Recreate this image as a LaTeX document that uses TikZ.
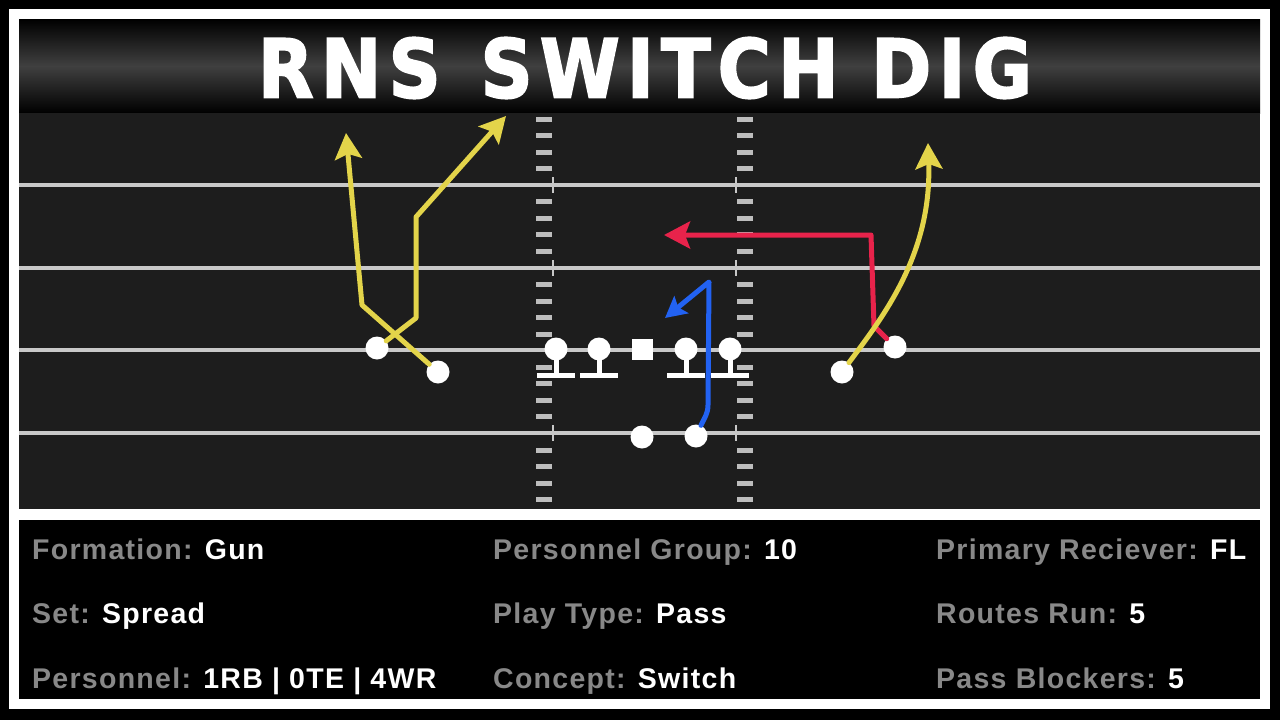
\documentclass[tikz,border=0pt]{standalone}
\usepackage{fontspec}
\usepackage{graphicx}
\setmainfont{Liberation Sans}
\newfontfamily\titlefont{DejaVu Sans}
\usetikzlibrary{arrows.meta}
\definecolor{fieldc}{HTML}{1D1D1D}
\definecolor{yardc}{HTML}{C8C8C8}
\definecolor{hashc}{HTML}{BDBDBD}
\definecolor{labgray}{HTML}{888888}
\definecolor{routeyel}{HTML}{E3D44A}
\definecolor{routered}{HTML}{E8234B}
\definecolor{routeblue}{HTML}{2262F2}
\newcommand{\playval}[1]{{\color{white}#1}}
\tikzset{
  player/.style={circle, fill=white, minimum size=23pt, inner sep=0pt},
  center/.style={rectangle, fill=white, minimum size=21pt, inner sep=0pt},
  routeline/.style={line width=5pt, line join=round, line cap=round},
  tip/.style={-{Stealth[length=26pt,width=27pt,inset=5pt]}},
  yelroute/.style={routeline, tip, draw=routeyel},
  redroute/.style={routeline, tip, draw=routered},
  blueroute/.style={routeline, -{Stealth[length=21pt,width=22pt,inset=4pt]}, draw=routeblue},
  info/.style={anchor=base west, inner sep=0pt, text=labgray,
    font=\fontsize{28.5}{32}\selectfont\bfseries\addfontfeatures{LetterSpace=4.5}}
}
\begin{document}
\begin{tikzpicture}[x=1pt,y=-1pt]
\useasboundingbox (0,0) rectangle (1280,720);
\fill[black] (0,0) rectangle (1280,720);
\fill[white] (9,9) rectangle (1270,709);
% title bar
\shade[top color=black, bottom color=black, middle color=black!75!white] (19,19) rectangle (1260,113);
\node[inner sep=0pt, text=white] (title) at (645,68)
  {\resizebox{774pt}{60pt}{\titlefont\bfseries\addfontfeatures{LetterSpace=10,FakeBold=2.5}RNS\hspace{0.55em}SWITCH\hspace{0.45em}DIG}};
% field
\fill[fieldc] (19,113) rectangle (1260,509);
\foreach \y in {185,267.5,350,433}{
  \fill[yardc] (19,\y-2) rectangle (1260,\y+2);
  \fill[yardc] (552,\y-8) rectangle (554,\y+8);
  \fill[yardc] (735,\y-8) rectangle (737,\y+8);
}
\foreach \k in {0,1,2,3,5,6,7,8,10,11,12,13,15,16,17,18,20,21,22,23}{
  \fill[hashc] (536,{119+16.55*\k-2.5}) rectangle (552,{119+16.55*\k+2.5});
  \fill[hashc] (737,{119+16.55*\k-2.5}) rectangle (753,{119+16.55*\k+2.5});
}
% offensive line
\foreach \n/\x in {lt/556,lg/599,rg/686,rt/730}{
  \fill[white] (\x-2.5,349) rectangle (\x+2.5,375);
  \fill[white] (\x-19,372.5) rectangle (\x+19,377.5);
  \node[player] (\n) at (\x,349) {};
}
\node[center] (c) at (642,349) {};
% backs and receivers
\node[player] (qb) at (642,437) {};
\node[player] (rb) at (696,436) {};
\node[player] (lwo) at (377,348) {};
\node[player] (lwi) at (438,372) {};
\node[player] (rwi) at (842,372) {};
\node[player] (rwo) at (895,347) {};
% route points
\coordinate (l1a) at (362,305);
\coordinate (l1b) at (346,133);
\coordinate (l2a) at (416,318);
\coordinate (l2b) at (416,217);
\coordinate (l2c) at (506,116);
\coordinate (r1a) at (874,326);
\coordinate (r1b) at (871,235);
\coordinate (r1c) at (664,235);
\coordinate (y3e) at (928,143);
\coordinate (b1a) at (708,405);
\coordinate (b1b) at (709,282);
\coordinate (b1c) at (665,318);
% routes
\draw[yelroute] (lwi) -- (l1a) -- (l1b);
\draw[yelroute] (lwo) -- (l2a) -- (l2b) -- (l2c);
\draw[redroute] (rwo) -- (r1a) -- (r1b) -- (r1c);
\draw[yelroute] (rwi) .. controls (882,318) and (932,255) .. (y3e);
\draw[blueroute] (rb) to[out=65,in=-90] (b1a) -- (b1b) -- (b1c);
% info panel
\fill[black] (19,520) rectangle (1260,699);
\node[info] (f1) at (32,559) {Formation: \playval{Gun}};
\node[info] (f2) at (32,623) {Set: \playval{Spread}};
\node[info] (f3) at (32,688) {Personnel: \playval{1RB | 0TE | 4WR}};
\node[info] (g1) at (493,559) {Personnel Group: \playval{10}};
\node[info] (g2) at (493,623) {Play Type: \playval{Pass}};
\node[info] (g3) at (493,688) {Concept: \playval{Switch}};
\node[info] (h1) at (936,559) {Primary Reciever: \playval{FL}};
\node[info] (h2) at (936,623) {Routes Run: \playval{5}};
\node[info] (h3) at (936,688) {Pass Blockers: \playval{5}};
\end{tikzpicture}
\end{document}
